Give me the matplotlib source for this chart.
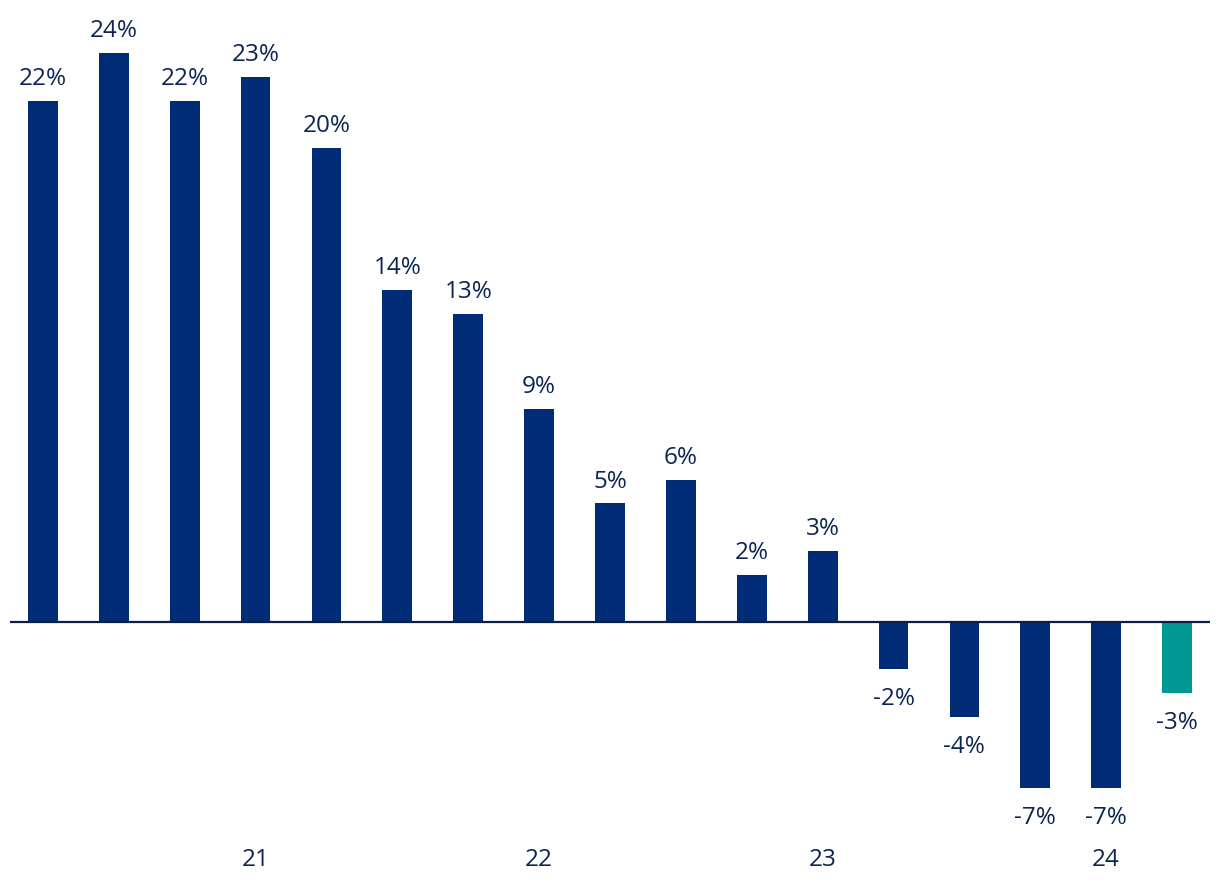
import matplotlib
matplotlib.use("Agg")
import matplotlib.pyplot as plt

values = [22, 24, 22, 23, 20, 14, 13, 9, 5, 6, 2, 3, -2, -4, -7, -7, -3]
labels = [f"{v}%" for v in values]
year_ticks = [3, 7, 11, 15]
year_labels = ["21", "22", "23", "24"]

navy = "#002C77"
teal = "#009890"
text_col = "#0B2550"

plt.rcParams['font.family'] = ['Open Sans', 'DejaVu Sans']

W, H = 1220, 896
fig = plt.figure(figsize=(W/100, H/100), dpi=100)
left_px, right_px = 10, 1210
top_px, bottom_px = 0, 845
ax = fig.add_axes([left_px/W, 1 - bottom_px/H, (right_px-left_px)/W, (bottom_px-top_px)/H])

ppu = 23.7
zero_px = 622
ax.set_ylim(-(bottom_px - zero_px)/ppu, (zero_px - top_px)/ppu)
ax.set_xlim(-0.465, 16.465)

x = list(range(len(values)))
colors = [navy]*(len(values)-1) + [teal]
ax.bar(x, values, width=0.42, color=colors, zorder=2)
ax.axhline(0, color="#0A1F44", lw=1.6, zorder=3)

fs = 17.5
for xi, v, lab in zip(x, values, labels):
    if v >= 0:
        ax.annotate(lab, (xi, v), xytext=(0, 10), textcoords="offset pixels",
                    ha="center", va="bottom", fontsize=fs, color=text_col)
    else:
        ax.annotate(lab, (xi, v), xytext=(0, -18), textcoords="offset pixels",
                    ha="center", va="top", fontsize=fs, color=text_col)

ax.set_xticks(year_ticks)
ax.set_xticklabels(year_labels, fontsize=fs, color=text_col)
ax.tick_params(axis="x", length=0, pad=2.5)
ax.set_yticks([])
for s in ax.spines.values():
    s.set_visible(False)

fig.savefig("out.png", dpi=100)
